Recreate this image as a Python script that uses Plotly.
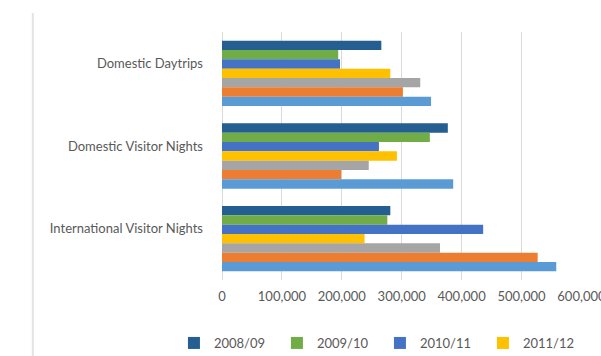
import plotly.graph_objects as go

# Visitor figures by market, per financial year
categories = ["Domestic Daytrips", "Domestic Visitor Nights", "International Visitor Nights"]
years = ["2008/09", "2009/10", "2010/11", "2011/12", "2012/13", "2013/14", "2014/15"]
values = {
    "2008/09": [266000, 377000, 281000],
    "2009/10": [194000, 347000, 276000],
    "2010/11": [197000, 262000, 436000],
    "2011/12": [281000, 292000, 238000],
    "2012/13": [331000, 245000, 364000],
    "2013/14": [302000, 199000, 527000],
    "2014/15": [349000, 386000, 558000],
}
colors = ["#255E91", "#70AD47", "#4472C4", "#FFC000", "#A5A5A5", "#ED7D31", "#5B9BD5"]
legend_years = ["2008/09", "2009/10", "2010/11", "2011/12"]
x_ticks = [0, 100000, 200000, 300000, 400000, 500000, 600000]

FONT = "Lato, 'Open Sans', sans-serif"
TEXT = "#595959"
GRID = "#D9D9D9"
FS = 13

fig = go.Figure()
for year, color in zip(years, colors):
    fig.add_trace(go.Bar(
        y=categories,
        x=values[year],
        name=year,
        orientation="h",
        marker=dict(color=color, line=dict(width=0)),
        showlegend=year in legend_years,
    ))

W, H = 601, 356
x_max = 601000
ml, mt, mb = 222, 32, 76
px_per_unit = 359 / 600000
plot_w = x_max * px_per_unit
mr = W - ml - plot_w

fig.update_layout(
    width=W, height=H,
    margin=dict(l=ml, r=mr, t=mt, b=mb, autoexpand=False),
    paper_bgcolor="white",
    plot_bgcolor="white",
    barmode="group",
    bargap=0.21,
    bargroupgap=0,
    font=dict(family=FONT, size=FS, color=TEXT),
    xaxis=dict(
        range=[0, x_max],
        tickvals=x_ticks,
        ticktext=[f"{v:,}" for v in x_ticks],
        showgrid=True, gridcolor=GRID, gridwidth=1,
        zeroline=True, zerolinecolor=GRID, zerolinewidth=1,
        showline=False, ticks="",
        ticklabelstandoff=7,
        ticklabeloverflow="allow",
        tickfont=dict(family=FONT, size=FS, color=TEXT),
    ),
    yaxis=dict(
        autorange="reversed",
        showgrid=False, zeroline=False, showline=False, ticks="",
        ticklabelstandoff=18,
        ticklabelshift=10,
        tickfont=dict(family=FONT, size=FS, color=TEXT),
    ),
    legend=dict(
        orientation="h",
        x=-0.1335, xanchor="left",
        y=-0.254, yanchor="middle",
        entrywidth=58, entrywidthmode="pixels",
        itemwidth=30,
        font=dict(family=FONT, size=FS, color=TEXT),
        bgcolor="rgba(0,0,0,0)",
        traceorder="normal",
    ),
    shapes=[dict(
        type="line", xref="paper", yref="paper",
        x0=(33 - ml) / plot_w, x1=(33 - ml) / plot_w,
        y0=(H - mb - 13) / (H - mt - mb), y1=-mb / (H - mt - mb) - 0.01,
        line=dict(color="#E3E3E3", width=2),
    )],
)

fig.write_html("out.html")
